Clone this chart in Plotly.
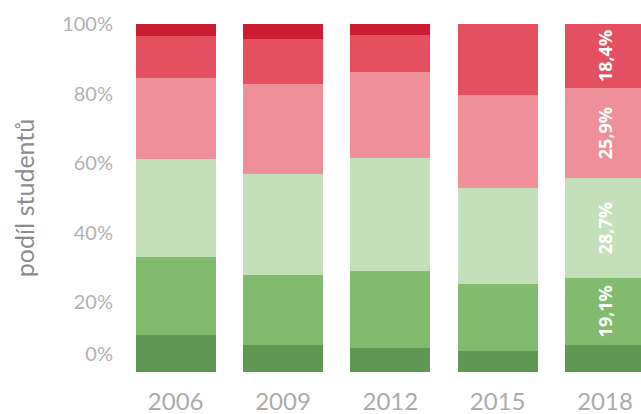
import plotly.graph_objects as go

years = ["2006", "2009", "2012", "2015", "2018"]
dark_green = [10.6, 7.8, 6.9, 6.0, 7.9]
green = [22.5, 20.0, 22.2, 19.3, 19.1]
light_green = [28.0, 29.1, 32.3, 27.5, 28.7]
pink = [23.4, 25.9, 24.8, 26.8, 25.9]
red = [12.1, 12.9, 10.6, 20.4, 18.4]
dark_red = [3.4, 4.3, 3.2, 0.0, 0.0]

labelled_year = "2018"
y_tick_labels = ["0%", "20%", "40%", "60%", "80%", "100%"]
y_title = "podíl studentů"

series = [
    (dark_green, "#5f9853", False),
    (green, "#80bb6e", True),
    (light_green, "#c4e0bb", True),
    (pink, "#ee8f99", True),
    (red, "#e4505f", True),
    (dark_red, "#cb1c31", False),
]

def fmt(v):
    return (f"{v:.1f}%").replace(".", ",")

fig = go.Figure()
for vals, color, show_label in series:
    texts = [fmt(v) if (show_label and y == labelled_year) else "" for y, v in zip(years, vals)]
    fig.add_trace(go.Bar(
        x=years, y=vals, marker=dict(color=color, line=dict(width=0)),
        text=texts, textposition="inside", textangle=-90,
        insidetextanchor="middle", constraintext="none",
        textfont=dict(family="Open Sans", size=18, color="white", weight="bold"),
        hoverinfo="skip", showlegend=False,
    ))

tickvals = [0, 20, 40, 60, 80, 100]
tickpos = [5.2 if v == 0 else v for v in tickvals]

fig.update_layout(
    barmode="stack", bargap=0.254,
    width=641, height=414,
    margin=dict(l=122, r=0, t=24, b=42, autoexpand=False),
    plot_bgcolor="white", paper_bgcolor="white",
    xaxis=dict(range=[-0.5, 4.335], showgrid=False, zeroline=False, showline=False,
               automargin=False,
               tickfont=dict(family="Lato", size=24, color="#ababab"),
               ticklabelstandoff=13),
    yaxis=dict(range=[0, 100], showgrid=False, zeroline=False, showline=False,
               automargin=False,
               tickvals=tickpos, ticktext=y_tick_labels,
               tickfont=dict(family="Lato", size=20, color="#b2b2b2"),
               ticklabelstandoff=8,
               title=dict(text=y_title, font=dict(family="Lato", size=25, color="#8c8c8c"),
                          standoff=20)),
)

fig.write_html("out.html", config={"displayModeBar": False},
               post_script="document.body.style.margin='0';document.body.style.overflow='hidden';")
